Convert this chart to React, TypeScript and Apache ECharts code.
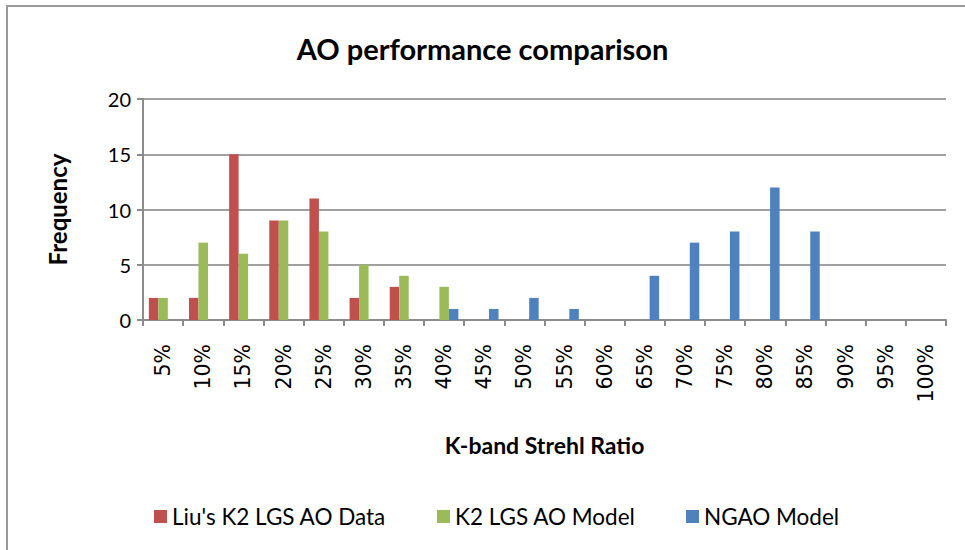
import React, { useEffect, useRef } from "react";
import * as echarts from "echarts";

const categories = ["5%", "10%", "15%", "20%", "25%", "30%", "35%", "40%", "45%", "50%", "55%", "60%", "65%", "70%", "75%", "80%", "85%", "90%", "95%", "100%"];
const liuData = [2, 2, 15, 9, 11, 2, 3, 0, 0, 0, 0, 0, 0, 0, 0, 0, 0, 0, 0, 0];
const k2Model = [2, 7, 6, 9, 8, 5, 4, 3, 0, 0, 0, 0, 0, 0, 0, 0, 0, 0, 0, 0];
const ngaoModel = [0, 0, 0, 0, 0, 0, 0, 1, 1, 2, 1, 0, 4, 7, 8, 12, 8, 0, 0, 0];
const seriesNames = ["Liu's K2 LGS AO Data", "K2 LGS AO Model", "NGAO Model"];
const colors = ["#C0504D", "#9BBB59", "#4F81BD"];

const FONT = "Lato, 'Open Sans', sans-serif";

export default function App() {
  const ref = useRef<HTMLDivElement>(null);
  useEffect(() => {
    if (!ref.current) return;
    const chart = echarts.init(ref.current, null, { renderer: "svg" });
    const legendLefts = [149, 432, 681];
    chart.setOption({
      animation: false,
      title: {
        text: "AO performance comparison",
        left: "center",
        top: 29,
        textStyle: { fontFamily: FONT, fontWeight: "bold", fontSize: 29, color: "#000" },
      },
      legend: seriesNames.map((n, i) => ({
        data: [n],
        left: legendLefts[i],
        top: 500,
        itemWidth: 13,
        itemHeight: 13,
        itemGap: 0,
        icon: "rect",
        textStyle: { fontFamily: FONT, fontSize: 22.5, color: "#000" },
      })),
      graphic: [
        {
          type: "rect",
          shape: { x: 7, y: 6, width: 1000, height: 600 },
          style: { fill: "none", stroke: "#9a9a9a", lineWidth: 2 },
          silent: true,
        },
      ],
      grid: { left: 143, right: 19, top: 99, bottom: 230 },
      xAxis: {
        type: "category",
        data: categories,
        name: "K-band Strehl Ratio",
        nameLocation: "middle",
        nameGap: 113,
        nameTextStyle: { fontFamily: FONT, fontWeight: "bold", fontSize: 23, color: "#000" },
        axisLine: { lineStyle: { color: "#8c8c8c", width: 2 } },
        axisTick: { show: true, length: 6, lineStyle: { color: "#8c8c8c", width: 2 } },
        axisLabel: {
          rotate: 90,
          margin: 24,
          interval: 0,
          fontFamily: "'DejaVu Sans', sans-serif",
          fontSize: 20.5,
          color: "#000",
        },
      },
      yAxis: {
        type: "value",
        min: 0,
        max: 20,
        interval: 5,
        name: "Frequency",
        nameLocation: "middle",
        nameGap: 74,
        nameRotate: 90,
        nameTextStyle: { fontFamily: FONT, fontWeight: "bold", fontSize: 24, color: "#000" },
        axisLine: { show: true, lineStyle: { color: "#8c8c8c", width: 2 } },
        axisTick: { show: true, length: 6, lineStyle: { color: "#8c8c8c", width: 2 } },
        axisLabel: { fontFamily: FONT, fontSize: 20, color: "#000", margin: 12 },
        splitLine: { lineStyle: { color: "#a0a0a0", width: 2 } },
      },
      series: [liuData, k2Model, ngaoModel].map((d, i) => ({
        name: seriesNames[i],
        type: "bar",
        data: d,
        barGap: "0%",
        barCategoryGap: "29%",
        itemStyle: { color: colors[i] },
      })),
    });
    return () => chart.dispose();
  }, []);
  return <div ref={ref} style={{ width: 965, height: 550, position: "absolute", left: 0, top: 0 }} />;
}
